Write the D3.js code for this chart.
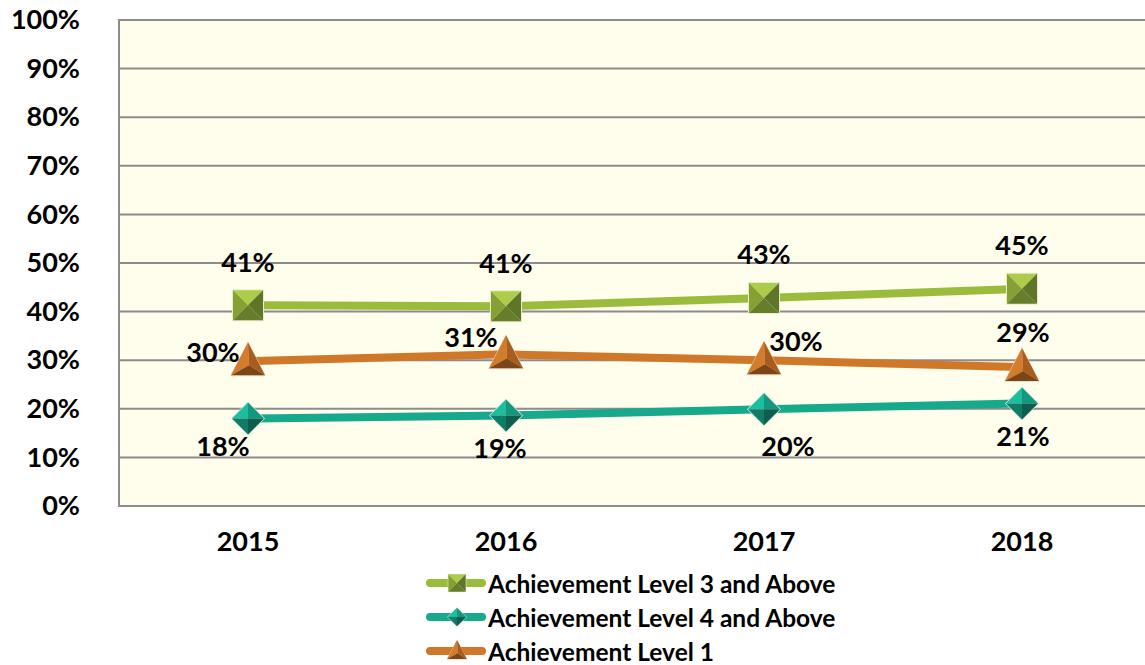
<!DOCTYPE html>
<html>
<head>
<meta charset="utf-8">
<script src="https://cdn.jsdelivr.net/npm/d3@7"></script>
<style>
  body { margin: 0; background: #fff; }
  svg { display: block; font-family: Lato, "Open Sans", sans-serif; font-weight: bold; }
</style>
</head>
<body>
<svg id="chart"></svg>
<script>
const years = ["2015", "2016", "2017", "2018"];
const level3 = [41.3, 41.1, 42.8, 44.7];
const level4 = [18.0, 18.6, 19.9, 21.1];
const level1 = [29.8, 31.2, 30.0, 28.6];
const yTicks = [0, 10, 20, 30, 40, 50, 60, 70, 80, 90, 100];
const seriesNames = ["Achievement Level 3 and Above", "Achievement Level 4 and Above", "Achievement Level 1"];

// label offsets (px) relative to each point, as placed in the original
const labelOffsets = {
  l3: [[0, -44], [0, -44], [0, -44], [0, -44]],
  l4: [[-25, 27], [-6, 32], [24, 36], [1, 32]],
  l1: [[-35, -10], [-35, -18], [32, -20], [1, -36]]
};

const size = { width: 1145, height: 665 };
const plot = { left: 119, right: 1151, top: 20, bottom: 506 };

const series = [
  { key: "l3", name: seriesNames[0], values: level3, color: "#9BBB3D", marker: "square" },
  { key: "l4", name: seriesNames[1], values: level4, color: "#17A98B", marker: "diamond" },
  { key: "l1", name: seriesNames[2], values: level1, color: "#D0782A", marker: "triangle" }
];

const svg = d3.select("#chart").attr("width", size.width).attr("height", size.height);

const x = d3.scaleBand().domain(years).range([plot.left, plot.right]);
const y = d3.scaleLinear().domain([0, 100]).range([plot.bottom, plot.top]);
const cx = d => x(d) + x.bandwidth() / 2;

svg.append("rect")
  .attr("x", plot.left).attr("y", plot.top)
  .attr("width", plot.right - plot.left).attr("height", plot.bottom - plot.top)
  .attr("fill", "#FFFDEC");

// gridlines
svg.append("g").selectAll("line").data(yTicks).join("line")
  .attr("x1", plot.left).attr("x2", plot.right)
  .attr("y1", d => y(d)).attr("y2", d => y(d))
  .attr("stroke", "#8C8C8C").attr("stroke-width", 2);

svg.append("line")
  .attr("x1", plot.left).attr("x2", plot.left)
  .attr("y1", plot.top - 1).attr("y2", plot.bottom + 1)
  .attr("stroke", "#8C8C8C").attr("stroke-width", 2);

// y axis labels
const yAxis = d3.axisLeft(y).tickValues(yTicks).tickFormat(d => `${d}%`).tickSize(0).tickPadding(0);
const yg = svg.append("g").attr("transform", `translate(80,0)`).call(yAxis);
yg.select(".domain").remove();
yg.selectAll("text").attr("font-size", 27).attr("font-family", "Lato, sans-serif").attr("font-weight", "bold").attr("fill", "#000");

// x axis labels
const xAxis = d3.axisBottom(x).tickSize(0).tickPadding(0);
const xg = svg.append("g").attr("transform", `translate(0,${plot.bottom + 26})`).call(xAxis);
xg.select(".domain").remove();
xg.selectAll("text").attr("font-size", 27).attr("font-family", "Lato, sans-serif").attr("font-weight", "bold").attr("fill", "#000");

// marker drawing: faceted "pyramid" shapes
const drawMarker = (g, type, px, py) => {
  const faces = [];
  if (type === "square") {
    const h = 15;
    const tl = [px - h, py - h], tr = [px + h, py - h], br = [px + h, py + h], bl = [px - h, py + h], c = [px, py];
    faces.push([[tl, tr, c], "#AECC4C"], [[tl, c, bl], "#87A034"], [[tr, br, c], "#5F7529"], [[bl, c, br], "#667D2C"]);
    g.append("rect").attr("x", px - h - 1).attr("y", py - h - 1).attr("width", 2 * h + 2).attr("height", 2 * h + 2)
      .attr("fill", "#E6EEC8");
  } else if (type === "diamond") {
    const h = 16;
    const t = [px, py - h], r = [px + h, py], b = [px, py + h], l = [px - h, py], c = [px, py];
    g.append("path").attr("d", d3.line()([[px, py - h - 1], [px + h + 1, py], [px, py + h + 1], [px - h - 1, py]]) + "Z")
      .attr("fill", "#CDEBE3");
    faces.push([[l, t, c], "#1BBE9D"], [[t, r, c], "#14977D"], [[l, c, b], "#127B66"], [[c, r, b], "#0E5D4D"]);
  } else {
    const w = 17, top = py - 19, bot = py + 14;
    const t = [px, top], l = [px - w, bot], r = [px + w, bot], c = [px + 1, py + 4];
    g.append("path").attr("d", d3.line()([[px, top - 1], [px + w + 1, bot + 1], [px - w - 1, bot + 1]]) + "Z")
      .attr("fill", "#F2D9C0");
    faces.push([[t, l, c], "#D37C2C"], [[t, c, r], "#A85D1E"], [[l, c, r], "#7B4719"]);
  }
  faces.forEach(([pts, fill]) => {
    g.append("path").attr("d", d3.line()(pts) + "Z").attr("fill", fill);
  });
};

const line = d3.line().x(d => cx(d.year)).y(d => y(d.value));

series.forEach(s => {
  const pts = years.map((year, i) => ({ year, value: s.values[i] }));
  const g = svg.append("g").attr("class", `series-${s.key}`);
  g.append("path").datum(pts).attr("d", line)
    .attr("fill", "none").attr("stroke", s.color).attr("stroke-width", 8)
    .attr("stroke-linejoin", "round").attr("stroke-linecap", "round");
  pts.forEach(p => drawMarker(g, s.marker, cx(p.year), y(p.value)));
});

// data labels on top
series.forEach(s => {
  svg.append("g").selectAll("text").data(years).join("text")
    .attr("x", (d, i) => cx(d) + labelOffsets[s.key][i][0])
    .attr("y", (d, i) => y(s.values[i]) + labelOffsets[s.key][i][1])
    .attr("text-anchor", "middle").attr("dominant-baseline", "central")
    .attr("font-size", 27).attr("fill", "#000")
    .text((d, i) => `${Math.round(s.values[i])}%`);
});

// legend
const legend = svg.append("g");
series.forEach((s, i) => {
  const ly = 583 + i * 34;
  legend.append("line")
    .attr("x1", 430).attr("x2", 482).attr("y1", ly).attr("y2", ly)
    .attr("stroke", s.color).attr("stroke-width", 8).attr("stroke-linecap", "round");
  const mg = legend.append("g").attr("transform", `translate(457,${ly}) scale(0.58) translate(${-457},${-ly})`);
  drawMarker(mg, s.marker, 457, ly);
  legend.append("text")
    .attr("x", 488).attr("y", ly)
    .attr("dominant-baseline", "central")
    .attr("font-size", 24.5).attr("fill", "#000")
    .text(s.name);
});
</script>
</body>
</html>
